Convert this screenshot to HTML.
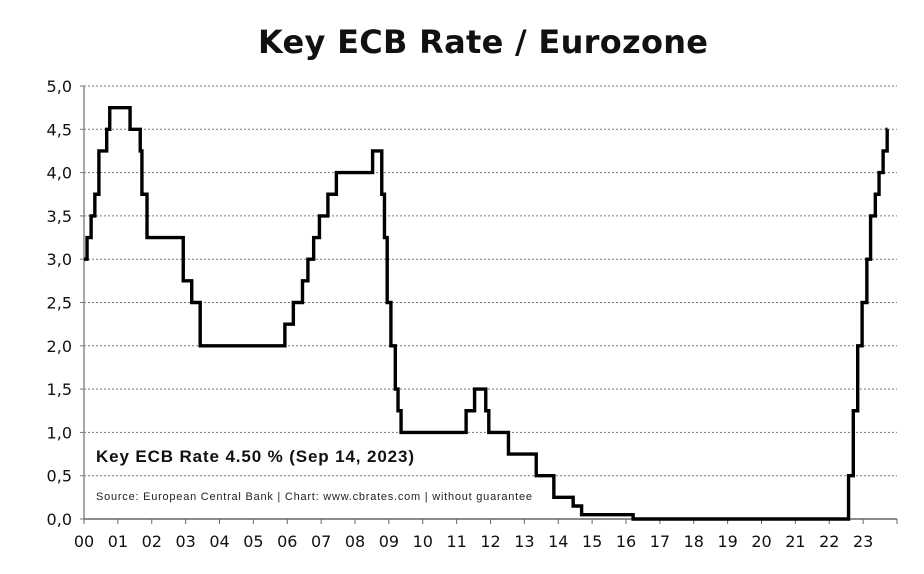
<!DOCTYPE html>
<html><head><meta charset="utf-8"><style>
body{margin:0;background:#fff;}
svg{display:block;}
</style></head><body>
<svg id="chart" width="924" height="574" xmlns="http://www.w3.org/2000/svg">
<rect width="924" height="574" fill="#fff"/>
<text x="483" y="53" text-anchor="middle" font-family="DejaVu Sans, sans-serif" font-weight="bold" font-size="32" fill="#111" textLength="450">Key ECB Rate / Eurozone</text>
<g id="grid"></g>
<g id="axes"></g>
<path id="line" fill="none" stroke="#000" stroke-width="3.4" stroke-linejoin="miter"/>
<text x="96" y="462" font-family="Liberation Sans, sans-serif" font-weight="bold" font-size="17" fill="#111" textLength="318">Key ECB Rate 4.50 % (Sep 14, 2023)</text>
<text x="96" y="500" font-family="Liberation Sans, sans-serif" font-size="11" fill="#222" textLength="436">Source: European Central Bank | Chart: www.cbrates.com | without guarantee</text>
</svg>
<script>
const yTicks = [0,0.5,1,1.5,2,2.5,3,3.5,4,4.5,5];
const yTickLabels = ["0,0","0,5","1,0","1,5","2,0","2,5","3,0","3,5","4,0","4,5","5,0"];
const xTickLabels = ["00","01","02","03","04","05","06","07","08","09","10","11","12","13","14","15","16","17","18","19","20","21","22","23"];
const changeDates = [0.0,0.09,0.21,0.32,0.44,0.67,0.76,1.36,1.66,1.71,1.86,2.93,3.18,3.43,5.93,6.18,6.45,6.61,6.78,6.95,7.2,7.45,8.52,8.79,8.87,8.95,9.06,9.19,9.27,9.36,11.28,11.53,11.86,11.95,12.53,13.35,13.87,14.44,14.69,16.21,22.57,22.71,22.84,22.97,23.11,23.22,23.36,23.47,23.59,23.71];
const rates = [3.0,3.25,3.5,3.75,4.25,4.5,4.75,4.5,4.25,3.75,3.25,2.75,2.5,2.0,2.25,2.5,2.75,3.0,3.25,3.5,3.75,4.0,4.25,3.75,3.25,2.5,2.0,1.5,1.25,1.0,1.25,1.5,1.25,1.0,0.75,0.5,0.25,0.15,0.05,0.0,0.5,1.25,2.0,2.5,3.0,3.5,3.75,4.0,4.25,4.5];
const endDate = 23.72;

const X0=84, X1=897, Y0=519, Y1=86;
const xs = v => X0 + (X1-X0)*v/24;
const ys = v => Y0 - (Y0-Y1)*v/5;
const NS="http://www.w3.org/2000/svg";
const grid=document.getElementById('grid'), axes=document.getElementById('axes');
function mk(tag,attrs,parent){const e=document.createElementNS(NS,tag);for(const k in attrs)e.setAttribute(k,attrs[k]);parent.appendChild(e);return e;}

yTicks.forEach((t,i)=>{
  if(t>0){
    const g=mk('line',{x1:X0,x2:X1,y1:ys(t),y2:ys(t),stroke:'#777','stroke-width':1,'stroke-dasharray':'2,2'},grid);
    
    
  }
  const tx=mk('text',{x:72,y:ys(t)+6,'text-anchor':'end','font-family':'DejaVu Sans, sans-serif','font-size':16,fill:'#111'},axes);
  tx.textContent=yTickLabels[i];
  
  
  const tk=mk('line',{x1:X0-4,x2:X0,y1:ys(t),y2:ys(t),stroke:'#777','stroke-width':1},axes);
  
  
});
const ya=mk('line',{x1:X0,x2:X0,y1:Y1,y2:Y0,stroke:'#888','stroke-width':1.5},axes);


const xa=mk('line',{x1:X0,x2:X1,y1:Y0,y2:Y0,stroke:'#666','stroke-width':1.5},axes);


for(let i=0;i<=24;i++){
  const tk=mk('line',{x1:xs(i),x2:xs(i),y1:Y0,y2:Y0+5,stroke:'#666','stroke-width':1},axes);
  
  
}
xTickLabels.forEach((l,i)=>{
  const tx=mk('text',{x:xs(i),y:Y0+28,'text-anchor':'middle','font-family':'DejaVu Sans, sans-serif','font-size':16,fill:'#111'},axes);
  tx.textContent=l;
  
  
});
let d='M'+xs(changeDates[0])+','+ys(rates[0]);
for(let i=1;i<changeDates.length;i++){
  d+=' H'+xs(changeDates[i])+' V'+ys(rates[i]);
}
d+=' H'+xs(endDate);
document.getElementById('line').setAttribute('d',d);
</script>
</body></html>
